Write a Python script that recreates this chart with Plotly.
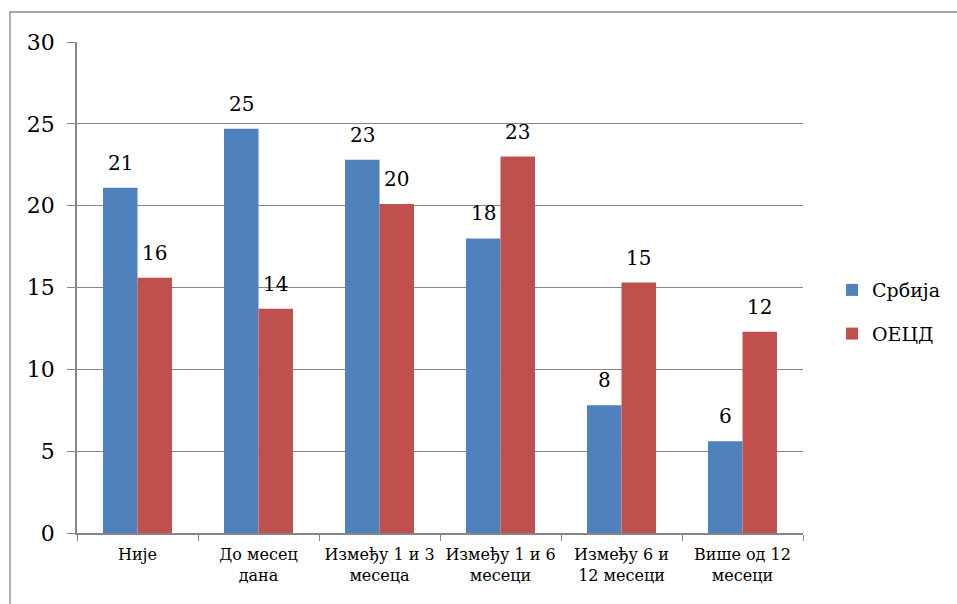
import plotly.graph_objects as go

categories = ["Није", "До месец<br>дана", "Између 1 и 3<br>месеца", "Између 1 и 6<br>месеци",
              "Између 6 и<br>12 месеци", "Више од 12<br>месеци"]
srbija = [21.1, 24.7, 22.8, 18.0, 7.8, 5.6]
oecd = [15.6, 13.7, 20.1, 23.0, 15.3, 12.3]
series_names = ["Србија", "ОЕЦД"]
colors = ["#4F81BD", "#C0504D"]
y_ticks = [0, 5, 10, 15, 20, 25, 30]

FONT = "DejaVu Serif"
W, H = 957, 604
ml, mr, mt, mb = 77, 154, 42, 71
pw, ph = W - ml - mr, H - mt - mb

fig = go.Figure()
for i, (name, vals) in enumerate(zip(series_names, [srbija, oecd])):
    fig.add_trace(go.Bar(x=categories, y=vals, name=name, marker_color=colors[i],
                         marker_line_width=0, legendgroup=name))

bar_w = pw / len(categories) * (1 - 0.43) / 2
annotations = []
for i, vals in enumerate([srbija, oecd]):
    shift = (i - 0.5) * bar_w
    for c, v in zip(categories, vals):
        annotations.append(dict(x=c, y=v, text=str(round(v)), showarrow=False,
                                xanchor="center", yanchor="bottom", xshift=shift, yshift=11,
                                font=dict(family=FONT, size=20, color="black")))

fig.update_layout(
    width=W, height=H,
    margin=dict(l=ml, r=mr, t=mt, b=mb, autoexpand=False),
    paper_bgcolor="white", plot_bgcolor="white",
    barmode="group", bargap=0.43, bargroupgap=0,
    font=dict(family=FONT, color="black"),
    annotations=annotations,
    legend=dict(x=1.04, y=0.45, xanchor="left", yanchor="middle",
                font=dict(family=FONT, size=19, color="black"),
                tracegroupgap=16, itemwidth=30),
    showlegend=True,
    shapes=[dict(type="rect", xref="paper", yref="paper",
                 x0=(10 - ml) / pw, x1=1.5, y0=-0.5, y1=1 + (mt - 12) / ph,
                 line=dict(color="#868686", width=1.3), layer="below")],
)
fig.update_xaxes(showgrid=False, showline=True, linecolor="#868686", linewidth=1.5,
                 ticks="outside", tickson="boundaries", ticklen=6, tickcolor="#868686",
                 tickfont=dict(family=FONT, size=16, color="black"), ticklabelstandoff=6)
fig.update_yaxes(range=[0, 30], tickvals=y_ticks, showgrid=True, gridcolor="#868686",
                 gridwidth=1.3, showline=True, linecolor="#868686", linewidth=1.5,
                 ticks="outside", ticklen=8, tickcolor="#868686", zeroline=False,
                 tickfont=dict(family=FONT, size=22, color="black"), ticklabelstandoff=8)

fig.write_html("out.html")
